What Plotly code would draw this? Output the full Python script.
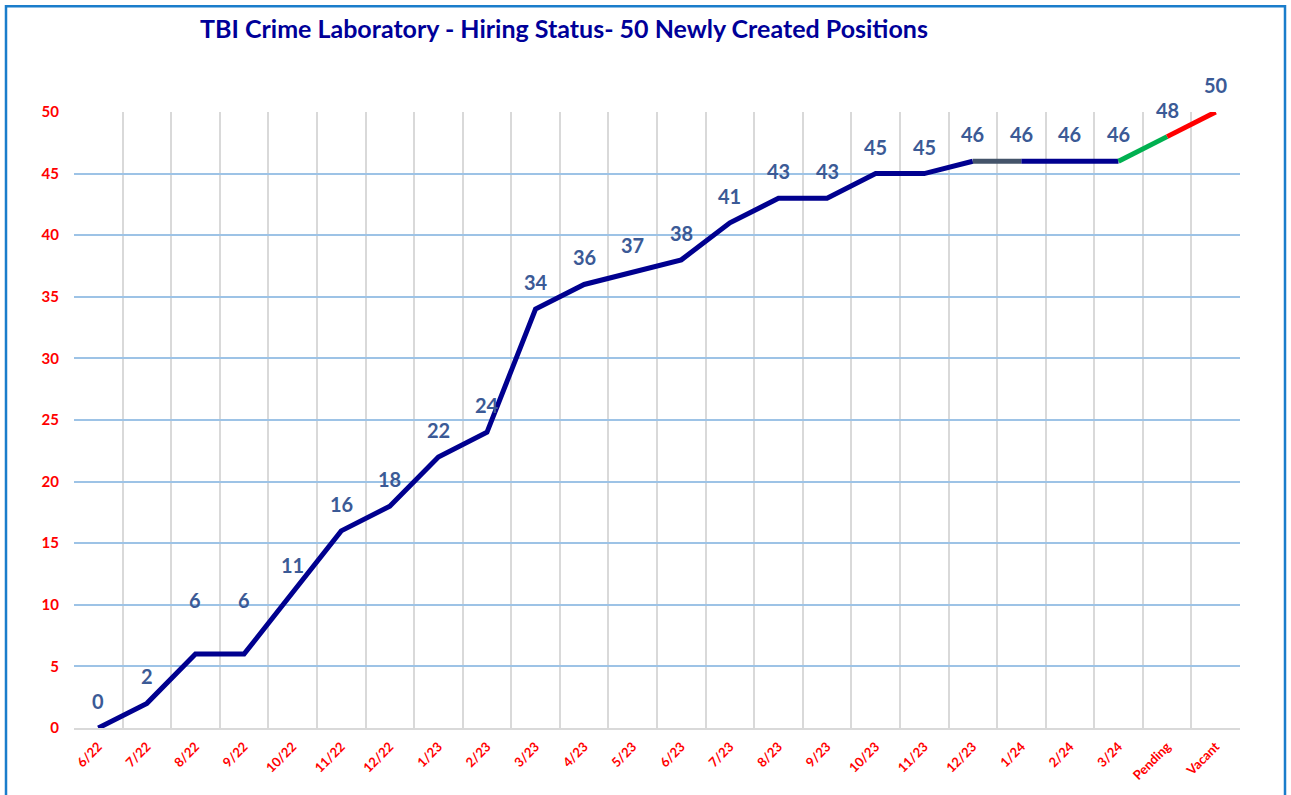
import plotly.graph_objects as go

categories = ["6/22", "7/22", "8/22", "9/22", "10/22", "11/22", "12/22", "1/23", "2/23",
              "3/23", "4/23", "5/23", "6/23", "7/23", "8/23", "9/23", "10/23", "11/23",
              "12/23", "1/24", "2/24", "3/24", "Pending", "Vacant"]
hired = [0, 2, 6, 6, 11, 16, 18, 22, 24, 34, 36, 37, 38, 41, 43, 43, 45, 45,
         46, 46, 46, 46, 48, 50]
y_ticks = [0, 5, 10, 15, 20, 25, 30, 35, 40, 45, 50]

# segments (start index, end index, colour)
segments = [(0, 18, "#00008F"), (18, 19, "#44546A"), (19, 21, "#00008F"),
            (21, 22, "#00B050"), (22, 23, "#FF0000")]
# vertical pixel offset of each data label above its point
label_shift = [27] * len(hired)
label_shift[2] = 54
label_shift[3] = 54

fig = go.Figure()
for s, e, c in segments:
    fig.add_trace(go.Scatter(x=categories[s:e + 1], y=hired[s:e + 1], mode="lines",
                             line=dict(color=c, width=5), showlegend=False,
                             hoverinfo="skip"))

for i, (c, v) in enumerate(zip(categories, hired)):
    fig.add_annotation(x=c, y=v, text=str(v), showarrow=False, yshift=label_shift[i],
                       font=dict(family="Lato", size=20, color="#3B5A96", weight="bold"),
                       yanchor="middle", xanchor="center")

L, R, T, B = 74, 51, 112, 65
W, H = 1291, 795
pw, ph = W - L - R, H - T - B

def px2x(px):
    return (px - L) / pw

def py2y(py):
    return (H - B - py) / ph

fig.add_shape(type="rect", xref="paper", yref="paper",
              x0=px2x(6), x1=px2x(1285), y0=py2y(800), y1=py2y(6),
              line=dict(color="#1A7DCB", width=2.5), fillcolor="rgba(0,0,0,0)", layer="above")

fig.update_layout(
    width=W, height=H,
    margin=dict(l=L, r=R, t=T, b=B),
    paper_bgcolor="white", plot_bgcolor="white",
    title=dict(text="<b>TBI Crime Laboratory - Hiring Status- 50 Newly Created Positions</b>",
               x=200 / W, xanchor="left", y=1 - 29 / H, yanchor="middle",
               font=dict(family="Lato", size=25, color="#000099")),
    xaxis=dict(type="category", categoryorder="array", categoryarray=categories,
               range=[-0.5, len(categories) - 0.5],
               tickson="boundaries", showgrid=True, gridcolor="#D9D9D9", gridwidth=2,
               showline=True, linecolor="#D9D9D9", linewidth=2,
               ticks="", tickangle=-45, ticklabelstandoff=4,
               tickfont=dict(family="Lato", size=13, color="#FF0000", weight="bold")),
    yaxis=dict(range=[0, 50], tickvals=y_ticks, showgrid=True, gridcolor="#9DC3E6",
               gridwidth=2, zeroline=False, showline=False, ticks="",
               ticklabelstandoff=14,
               tickfont=dict(family="Lato", size=15, color="#FF0000", weight="bold")),
)

fig.write_html("out.html", config={"displayModeBar": False},
               post_script="document.body.style.margin='0';document.body.style.overflow='hidden';")
